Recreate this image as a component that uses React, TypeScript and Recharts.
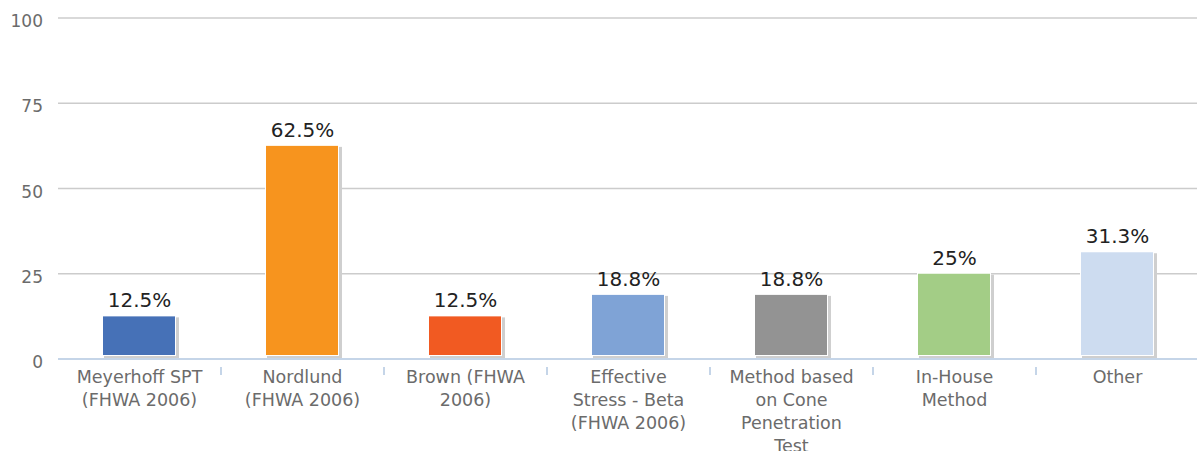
import { Bar, BarChart, CartesianGrid, Cell, LabelList, XAxis, YAxis } from "recharts";

const categories = [
  "Meyerhoff SPT\n(FHWA 2006)",
  "Nordlund\n(FHWA 2006)",
  "Brown (FHWA\n2006)",
  "Effective\nStress - Beta\n(FHWA 2006)",
  "Method based\non Cone\nPenetration\nTest",
  "In-House\nMethod",
  "Other",
];
const values = [12.5, 62.5, 12.5, 18.8, 18.8, 25, 31.3];
const labels = ["12.5%", "62.5%", "12.5%", "18.8%", "18.8%", "25%", "31.3%"];
const colors = ["#4671b7", "#f7941e", "#f15a22", "#7fa3d6", "#939393", "#a3cd86", "#cddcf0"];
const yTicks = [0, 25, 50, 75, 100];

const data = categories.map((name, i) => ({ name, value: values[i], label: labels[i] }));

const W = 1199;
const H = 470;
const LEFT = 58;
const BAND = (W - LEFT) / categories.length;
const FONT = "'DejaVu Sans', Verdana, sans-serif";

function CategoryTick(props: any) {
  const { x, y, payload, index } = props;
  const lines = String(payload.value).split("\n");
  return (
    <g>
      {index > 0 && (
        <line x1={x - BAND / 2} x2={x - BAND / 2} y1={y} y2={y + 8} stroke="#c5d5e8" strokeWidth={2} />
      )}
      <text x={x} y={y} textAnchor="middle" fill="#6b6b6b" fontSize={17.5} fontFamily={FONT}>
        {lines.map((l, i) => (
          <tspan key={i} x={x} dy={i === 0 ? 16 : 23}>
            {l}
          </tspan>
        ))}
      </text>
    </g>
  );
}

function ShadowBar(props: any) {
  const { x, y, width, height, fill } = props;
  if (!height || height <= 0) return null;
  return (
    <g>
      <rect x={x + 1} y={y + 1} width={width + 2} height={height} fill="#cfcfcf" />
      <rect x={x - 1} y={y - 1} width={width + 1} height={height - 2} fill="#ffffff" />
      <rect x={x} y={y} width={width - 1} height={height - 4} fill={fill} />
    </g>
  );
}

function ValueLabel(props: any) {
  const { x, y, width, value } = props;
  return (
    <text x={x + width / 2} y={y - 9} textAnchor="middle" fill="#222" fontSize={20} fontFamily={FONT}>
      {value}
    </text>
  );
}

export default function App() {
  return (
    <div style={{ position: "fixed", left: 0, top: 0, width: 1197, height: 451, overflow: "hidden", background: "#fff" }}>
      <BarChart width={W} height={H} data={data} margin={{ top: 18, right: 0, bottom: 0, left: 0 }} barSize={73}>
        <CartesianGrid vertical={false} stroke="#cccccc" strokeWidth={1.5} />
        <XAxis
          dataKey="name"
          interval={0}
          height={H - 18 - 341}
          axisLine={{ stroke: "#c5d5e8", strokeWidth: 2 }}
          tickLine={false}
          tick={<CategoryTick />}
        />
        <YAxis
          domain={[0, 100]}
          ticks={yTicks}
          width={LEFT}
          axisLine={false}
          tickLine={false}
          tickSize={0}
          tickMargin={15}
          tick={{ fill: "#6b6b6b", fontSize: 17, fontFamily: FONT, dy: 3 }}
        />
        <Bar dataKey="value" isAnimationActive={false} shape={<ShadowBar />}>
          {data.map((d, i) => (
            <Cell key={d.name} fill={colors[i]} />
          ))}
          <LabelList dataKey="label" content={<ValueLabel />} />
        </Bar>
      </BarChart>
    </div>
  );
}
